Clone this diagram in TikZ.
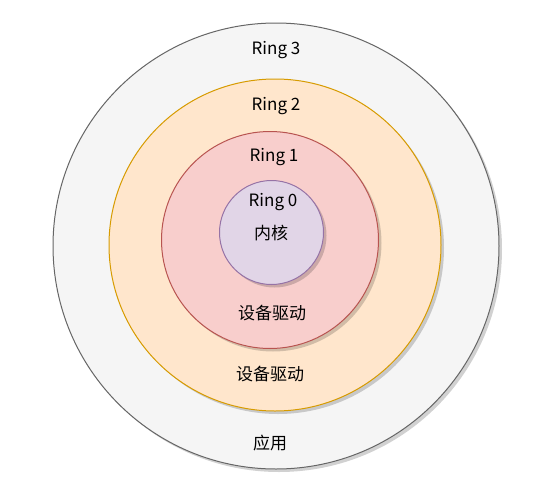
\documentclass[tikz,border=0pt]{standalone}
\usepackage{fontspec}
\setmainfont{Noto Sans CJK SC}
\definecolor{g3fill}{HTML}{F5F5F5}\definecolor{g3line}{HTML}{666666}
\definecolor{o2fill}{HTML}{FFE6CC}\definecolor{o2line}{HTML}{D79B00}
\definecolor{r1fill}{HTML}{F8CECC}\definecolor{r1line}{HTML}{B85450}
\definecolor{p0fill}{HTML}{E1D5E7}\definecolor{p0line}{HTML}{9673A6}
\begin{document}
\begin{tikzpicture}[x=1pt,y=-1pt,
  ring/.style={circle,inner sep=0pt,line width=1pt},
  shade/.style={circle,inner sep=0pt,fill=black,fill opacity=0.18,draw=none},
  lbl/.style={font=\fontsize{17}{19}\selectfont,text=black,inner sep=0pt}]
\useasboundingbox (0,0) rectangle (541,493);
\fill[white] (0,0) rectangle (541,493);
% ring 3
\node[shade,minimum size=446pt] at (279,249) {};
\node[ring,minimum size=446pt,draw=g3line,fill=g3fill] (r3) at (276,246) {};
% ring 2
\node[shade,minimum size=332pt] at (278,248) {};
\node[ring,minimum size=332pt,draw=o2line,fill=o2fill] (r2) at (275,245) {};
% ring 1
\node[shade,minimum size=217pt] at (273,243) {};
\node[ring,minimum size=217pt,draw=r1line,fill=r1fill] (r1) at (270,240) {};
% ring 0
\node[shade,minimum size=104pt] at (274.5,235.5) {};
\node[ring,minimum size=104pt,draw=p0line,fill=p0fill] (r0) at (271.5,232.5) {};
% labels
\node[lbl] (t3) at (276,50) {Ring 3};
\node[lbl] (t2) at (276,106) {Ring 2};
\node[lbl] (t1) at (274,157) {Ring 1};
\node[lbl] (t0) at (273,202) {Ring 0};
\node[lbl] (k) at (271,233) {内核};
\node[lbl] (d1) at (272,313) {设备驱动};
\node[lbl] (d2) at (270,374) {设备驱动};
\node[lbl] (app) at (270,443) {应用};
\end{tikzpicture}
\end{document}
